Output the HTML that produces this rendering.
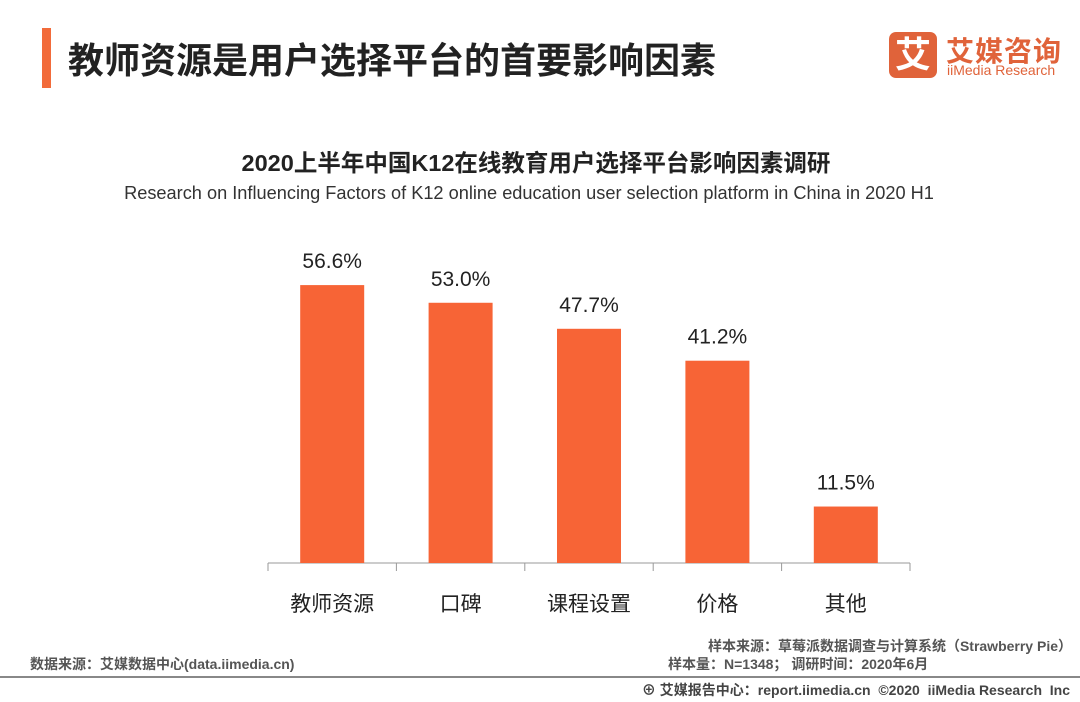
<!DOCTYPE html>
<html><head><meta charset="utf-8">
<style>
body{margin:0;width:1080px;height:702px;background:#fff;font-family:"Liberation Sans","Noto Sans CJK SC",sans-serif;position:relative;overflow:hidden}
.abs{position:absolute;white-space:nowrap}
</style></head>
<body>
<div class="abs" style="left:42px;top:28px;width:9px;height:60px;background:#f26b3a"></div>
<div class="abs" style="left:68px;top:32px;font-size:36px;font-weight:bold;color:#222">教师资源是用户选择平台的首要影响因素</div>
<div class="abs" style="left:889px;top:32px;width:48px;height:46px;background:#e0633a;border-radius:7px;color:#fff;font-size:36px;font-weight:bold;text-align:center;line-height:46px">艾</div>
<div class="abs" style="left:946px;top:30px;font-size:28px;font-weight:bold;color:#e0633a;letter-spacing:1px">艾媒咨询</div>
<div class="abs" style="left:947px;top:62px;font-size:14px;color:#e0633a">iiMedia Research</div>
<div class="abs" style="left:0;width:1072px;text-align:center;top:144px;font-size:23.5px;font-weight:bold;color:#222">2020上半年中国K12在线教育用户选择平台影响因素调研</div>
<div class="abs" style="left:0;width:1058px;text-align:center;top:183px;font-size:18.2px;color:#333">Research on Influencing Factors of K12 online education user selection platform in China in 2020 H1</div>
<svg id="chart" class="abs" style="left:0;top:0" width="1080" height="702"></svg>
<div class="abs" style="left:30px;top:654px;font-size:14px;color:#555;font-weight:bold">数据来源：艾媒数据中心(data.iimedia.cn)</div>
<div class="abs" style="right:8px;top:636px;font-size:14px;color:#555;font-weight:bold">样本来源：草莓派数据调查与计算系统（Strawberry Pie）</div>
<div class="abs" style="left:668px;top:654px;font-size:14px;color:#555;font-weight:bold">样本量：N=1348；&nbsp;调研时间：2020年6月</div>
<div class="abs" style="left:0;top:676px;width:1080px;height:2px;background:#888"></div>
<div class="abs" style="right:10px;top:680px;font-size:14px;color:#444;font-weight:bold">⊕ 艾媒报告中心：report.iimedia.cn&nbsp;&nbsp;©2020&nbsp;&nbsp;iiMedia Research&nbsp;&nbsp;Inc</div>
<script>
const categories=["教师资源","口碑","课程设置","价格","其他"];
const values=[56.6,53.0,47.7,41.2,11.5];
const labels=["56.6%","53.0%","47.7%","41.2%","11.5%"];
const NS="http://www.w3.org/2000/svg";
const svg=document.getElementById('chart');
const x0=268,step=128.4,base=563,scale=4.91,bw=64;
const y=v=>base-v*scale;
const xc=i=>x0+step*(i+0.5);
function mk(t,a){const e=document.createElementNS(NS,t);for(const k in a)e.setAttribute(k,a[k]);svg.appendChild(e);return e;}
const ax=mk('line',{x1:x0,x2:x0+step*categories.length,y1:base,y2:base,stroke:'#999','stroke-width':1});


for(let i=0;i<=categories.length;i++){
 const t=mk('line',{x1:x0+step*i,x2:x0+step*i,y1:base,y2:base+8,stroke:'#999'});
 
 
}
values.forEach((v,i)=>{
 const r=mk('rect',{x:xc(i)-bw/2,y:y(v),width:bw,height:base-y(v),fill:'#f76436'});
 
 
 const l=mk('text',{x:xc(i),y:y(v)-17,'text-anchor':'middle','font-size':21,fill:'#222'});
 l.textContent=labels[i];
 
 
 const c=mk('text',{x:xc(i),y:611,'text-anchor':'middle','font-size':21,fill:'#222'});
 c.textContent=categories[i];
 
 
});
</script>
</body></html>
